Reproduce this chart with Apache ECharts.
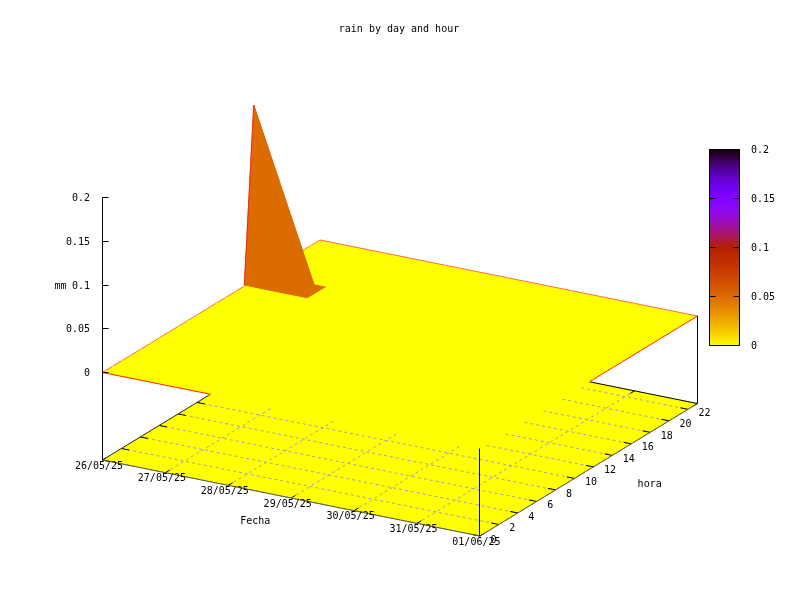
<!DOCTYPE html>
<html>
<head>
<meta charset="utf-8">
<style>html,body{margin:0;padding:0;background:#fff}#c{width:800px;height:600px}</style>
<script src="https://cdn.jsdelivr.net/npm/echarts@6/dist/echarts.min.js"></script>
</head>
<body>
<div id="c"></div>
<script>
// ---- data ----
const dayLabels = ['26/05/25','27/05/25','28/05/25','29/05/25','30/05/25','31/05/25','01/06/25'];
const hourTicks = [0,2,4,6,8,10,12,14,16,18,20,22];
const zTicks = [0,0.05,0.1,0.15,0.2];
const hoursCount = 24;
const rainDay0 = [0,0,0,0,0,0,0,0,0,0,0,0,0,0,0,0,0.2,0,0,0,0,0,0,0];
const rainDay1 = [0,0,0,0,0,0,0,0,0,0,0,0,0,0,0,0,0,0,0,0,0,0,0,0];
const rainDay2 = [0,0,0,0,0,0,0,0,0,0,0,0,0,0,0,0,0,0,0,0,0,0,0,0];
const rainDay3 = [0,0,0,0,0,0,0,0,0,0,0,0,0,0,0,0,0,0,0,0,0,0,0,0];
const rainDay4 = [0,0,0,0,0,0,0,0,0,0,0,0,0,0,0,0,0,0,0,0,0,0,0,0];
const rainDay5 = [0,0,0,0,0,0,0,0,0,0,0,0,0,0,0,0,0,0,0,0,0,0,0,0];
const rainDay6 = [0,0,0,0,0,0,0,0,0,0,0,0,0,0,0,0,0,0,0,0,0,0,0,0];
const rain = [rainDay0,rainDay1,rainDay2,rainDay3,rainDay4,rainDay5,rainDay6];
const titleText = 'rain by day and hour';
const xName = 'Fecha', yName = 'hora', zName = 'mm';

// ---- view: oblique projection of (day, hour, mm) on the page ----
const FONT = '"DejaVu Sans Mono", "Liberation Mono", monospace';
const view = {ox:102.5, oy:372.5, dayX:62.9, dayY:12.67, hourX:9.457, hourY:-5.76, zY:-875};
const zBase = -0.1, zMax = 0.2;
const lastDay = dayLabels.length-1, lastHour = hoursCount-1;
const frontRedEnd = 1.72, rightRedStart = 11.6;
const RED = '#ff2020', SOFT_RED = '#ff6a6a', GRID = '#a0a0c4', BLACK = '#000';

function project(d,h,z){
  return [view.ox + d*view.dayX + h*view.hourX, view.oy + d*view.dayY + h*view.hourY + z*view.zY];
}
function palette(x){ // gnuplot rgbformulae 7,5,15, reversed
  const g = 1-x;
  const c = v => Math.round(255*Math.max(0,Math.min(1,v)));
  return 'rgb('+c(Math.sqrt(g))+','+c(g*g*g)+','+c(Math.sin(2*Math.PI*g))+')';
}
function line(api,a,b,style){
  const p=api.coord(a), q=api.coord(b);
  const snap=v=>Math.floor(v)+0.5;
  if(Math.abs(p[0]-q[0])<0.01){ p[0]=q[0]=snap(p[0]); }
  if(Math.abs(p[1]-q[1])<0.01){ p[1]=q[1]=snap(p[1]); }
  return {type:'line',shape:{x1:p[0],y1:p[1],x2:q[0],y2:q[1]},style:Object.assign({stroke:BLACK,lineWidth:1,fill:null},style||{}),silent:true};
}
function poly(api,pts,color){
  return {type:'polygon',shape:{points:pts.map(p=>api.coord(p))},style:{fill:color,stroke:color,lineWidth:1},silent:true};
}
function textAt(p,text,align){
  return {type:'text',x:p[0],y:p[1]+1,style:{text:text,fill:BLACK,font:'10px '+FONT,align:align||'center',verticalAlign:'middle'},silent:true};
}
function label(api,at,text,align){
  return textAt(api.coord(at),text,align);
}
const gridSeq=[];
dayLabels.forEach((_,d)=>gridSeq.push(['day',d]));
hourTicks.forEach(h=>gridSeq.push(['hour',h]));

const cells=[];
for(let h=lastHour-1;h>=0;h--) for(let d=0;d<lastDay;d++) cells.push([d,h]);

function renderBase(params,api){
  return {type:'group',children:[poly(api,[project(0,0,zBase),project(lastDay,0,zBase),project(lastDay,lastHour,zBase),project(0,lastHour,zBase)],palette(0))]};
}
function renderGrid(params,api){
  const g=gridSeq[params.dataIndex], v=g[1], dash={stroke:GRID,lineDash:[3,3]}, ch=[];
  if(g[0]==='day'){
    ch.push(line(api,project(v,0,zBase),project(v,lastHour,zBase),dash));
    ch.push(line(api,project(v,0,zBase),project(v,0.46,zBase)));
    ch.push(line(api,project(v,lastHour,zBase),project(v,lastHour-0.46,zBase)));
  } else {
    ch.push(line(api,project(0,v,zBase),project(lastDay,v,zBase),dash));
    ch.push(line(api,project(0,v,zBase),project(0.12,v,zBase)));
    ch.push(line(api,project(lastDay,v,zBase),project(lastDay-0.12,v,zBase)));
  }
  return {type:'group',children:ch};
}
function renderBorder(params,api){
  return {type:'group',children:[
    line(api,project(0,0,zBase),project(lastDay,0,zBase),{stroke:'#555'}),
    line(api,project(lastDay,0,zBase),project(lastDay,lastHour,zBase),{stroke:'#555'}),
    line(api,project(0,0,zBase),project(0,lastHour,zBase),{stroke:'#333'}),
    line(api,project(0,lastHour,zBase),project(lastDay,lastHour,zBase))
  ]};
}
function renderCell(params,api){
  const c=cells[params.dataIndex], d=c[0], h=c[1];
  const mean=(rain[d][h]+rain[d][h+1]+rain[d+1][h]+rain[d+1][h+1])/4;
  const ch=[poly(api,[project(d,h,rain[d][h]),project(d+1,h,rain[d+1][h]),project(d+1,h+1,rain[d+1][h+1]),project(d,h+1,rain[d][h+1])],palette(mean/zMax))];
  const red={stroke:RED}, soft={stroke:SOFT_RED};
  if(d===0) ch.push(line(api,project(0,h,rain[0][h]),project(0,h+1,rain[0][h+1]),(rain[0][h]||rain[0][h+1])?red:soft));
  if(h===lastHour-1) ch.push(line(api,project(d,lastHour,rain[d][lastHour]),project(d+1,lastHour,rain[d+1][lastHour]),soft));
  if(h===0 && d<frontRedEnd) ch.push(line(api,project(d,0,rain[d][0]),project(Math.min(d+1,frontRedEnd),0,0),red));
  if(d===lastDay-1 && h+1>rightRedStart) ch.push(line(api,project(lastDay,Math.max(h,rightRedStart),0),project(lastDay,h+1,rain[lastDay][h+1]),red));
  return {type:'group',children:ch};
}
function renderFrame(params,api){
  const ch=[
    line(api,project(0,0,zBase),project(0,0,zMax)),
    line(api,project(lastDay,0,zBase),project(lastDay,0,0)),
    line(api,project(lastDay,lastHour,zBase),project(lastDay,lastHour,0))
  ];
  zTicks.forEach(z=>{
    const p=project(0,0,z);
    ch.push(line(api,p,[p[0]+6,p[1]]));
    ch.push(label(api,[p[0]-12.5,p[1]],String(z),'right'));
  });
  dayLabels.forEach((t,d)=>{
    const p=project(d,0,zBase);
    ch.push(label(api,[p[0]-3.5,p[1]+5],t));
  });
  hourTicks.forEach(h=>{
    const p=project(lastDay,h,zBase);
    ch.push(label(api,[p[0]+10.5,p[1]+3],String(h),'left'));
  });
  const zMid=project(0,0,0.1), xMid=project(lastDay/2,0,zBase), yMid=project(lastDay,lastHour/2,zBase);
  ch.push(label(api,[zMid[0]-42,zMid[1]],zName));
  ch.push(label(api,[xMid[0]-36,xMid[1]+22],xName));
  ch.push(label(api,[yMid[0]+61,yMid[1]+14],yName));
  return {type:'group',children:ch};
}
function renderBar(params,api){
  const top=api.coord([0,zMax]), bot=api.coord([0,0]), size=api.size([1,0]);
  const stops=[];
  for(let i=0;i<=64;i++) stops.push({offset:i/64,color:palette(1-i/64)});
  const right=top[0]+size[0]/2;
  const ch=[{type:'rect',shape:{x:top[0]-size[0]/2,y:top[1],width:size[0],height:bot[1]-top[1]},
    style:{fill:{type:'linear',x:0,y:0,x2:0,y2:1,colorStops:stops},stroke:BLACK,lineWidth:1},silent:true}];
  zTicks.forEach(z=>ch.push(textAt([right+11.5,api.coord([0,z])[1]],String(z),'left')));
  return {type:'group',children:ch};
}
const custom=(name,render,data,z)=>({type:'custom',name:name,renderItem:render,data:data,z:z,clip:false,silent:true,
  xAxisIndex:0,yAxisIndex:0,coordinateSystem:'cartesian2d',encode:{x:0,y:1},progressive:0,animation:false});
const ids=a=>a.map((_,i)=>[i,i]);
const barAxis=pos=>({type:'value',gridIndex:1,min:0,max:zMax,interval:0.05,position:pos,z:10,
  axisLine:{show:false},axisLabel:{show:false},splitLine:{show:false},
  axisTick:{show:true,inside:true,length:6,lineStyle:{color:BLACK}}});

const option={
  animation:false,
  backgroundColor:'#fff',
  title:{text:titleText,left:394,top:19,textAlign:'center',textStyle:{fontFamily:FONT,fontSize:10,fontWeight:'normal',color:BLACK,lineHeight:11}},
  tooltip:{show:false},
  grid:[
    {left:0,top:0,width:800,height:600,show:false},
    {left:709.5,top:149.5,width:30,height:196,show:false}
  ],
  xAxis:[
    {type:'value',gridIndex:0,min:0,max:800,show:false},
    {type:'category',gridIndex:1,data:['bar'],show:false}
  ],
  yAxis:[
    {type:'value',gridIndex:0,min:0,max:600,inverse:true,show:false},
    barAxis('left'),
    barAxis('right')
  ],
  series:[
    custom('base',renderBase,[[0,0]],1),
    custom('grid',renderGrid,ids(gridSeq),2),
    custom('border',renderBorder,[[0,0]],3),
    custom('surface',renderCell,ids(cells),4),
    custom('frame',renderFrame,[[0,0]],5),
    {type:'custom',name:'colorbox',renderItem:renderBar,data:[[0,0]],xAxisIndex:1,yAxisIndex:1,z:1,silent:true,clip:false,animation:false}
  ]
};
const chart=echarts.init(document.getElementById('c'),null,{renderer:'canvas'});
chart.setOption(option);
</script>
</body>
</html>
